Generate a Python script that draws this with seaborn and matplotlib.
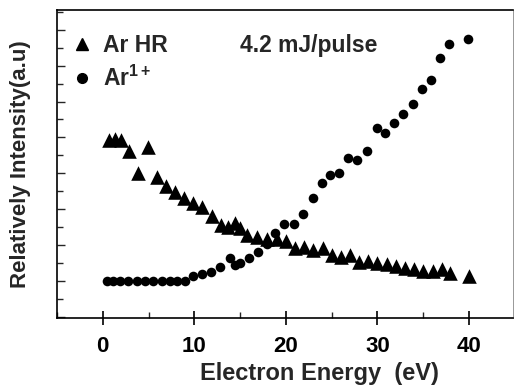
import matplotlib
matplotlib.use("Agg")
import matplotlib.pyplot as plt
import seaborn as sns
import pandas as pd
from matplotlib.lines import Line2D
from matplotlib.ticker import MultipleLocator, NullFormatter

sns.set_theme(style="ticks")
plt.rcParams['font.family'] = ['Liberation Sans', 'DejaVu Sans']
plt.rcParams['font.weight'] = 'bold'
plt.rcParams['mathtext.fontset'] = 'custom'
plt.rcParams['mathtext.bf'] = 'Liberation Sans:bold'
plt.rcParams['mathtext.rm'] = 'Liberation Sans:bold'

# Ar HR (triangles)
hr_energy = [0.66, 1.31, 1.97, 2.84, 3.83, 4.92, 5.9, 6.89, 7.87, 8.85, 9.84, 10.8,
             11.9, 12.9, 13.7, 14.4, 15.0, 15.8, 16.8, 17.9, 19.0, 20.0, 21.0, 22.0,
             23.0, 24.0, 25.0, 26.0, 27.0, 28.0, 29.0, 29.9, 31.0, 32.0, 33.0, 34.0,
             35.0, 36.1, 37.0, 37.9, 40.0]
hr_intensity = [4.94, 4.97, 4.92, 4.61, 4.0, 4.72, 3.89, 3.64, 3.47, 3.31, 3.17, 3.06,
                2.81, 2.56, 2.5, 2.61, 2.47, 2.28, 2.22, 2.17, 2.17, 2.11, 1.92, 1.94,
                1.86, 1.92, 1.72, 1.67, 1.72, 1.53, 1.56, 1.5, 1.47, 1.42, 1.36, 1.33,
                1.28, 1.28, 1.33, 1.22, 1.14]

# Ar1+ (circles)
ion_energy = [0.44, 1.09, 1.86, 2.73, 3.72, 4.59, 5.46, 6.45, 7.32, 8.09, 8.96, 9.84,
              10.8, 11.8, 12.8, 13.9, 14.4, 15.0, 16.0, 16.9, 17.9, 18.8, 19.8, 20.9,
              21.9, 23.0, 23.9, 24.8, 25.8, 26.8, 27.8, 28.9, 29.9, 30.8, 31.8, 32.8,
              33.9, 34.9, 35.8, 36.8, 37.8, 39.9]
ion_intensity = [1.0, 1.0, 1.0, 1.0, 1.0, 1.0, 1.0, 1.0, 1.0, 1.0, 1.0, 1.14,
                 1.19, 1.25, 1.39, 1.64, 1.44, 1.5, 1.64, 1.81, 2.03, 2.33, 2.58, 2.58,
                 2.86, 3.31, 3.72, 3.94, 4.0, 4.44, 4.36, 4.61, 5.25, 5.11, 5.39, 5.64,
                 5.92, 6.36, 6.61, 7.22, 7.61, 7.75]

x_ticks = [0, 10, 20, 30, 40]

df_hr = pd.DataFrame({"energy": hr_energy, "intensity": hr_intensity})
df_ion = pd.DataFrame({"energy": ion_energy, "intensity": ion_intensity})

fig = plt.figure(figsize=(5.14, 3.89), dpi=100)
ax = fig.add_axes([57/514, 1 - 318/389, (513 - 57)/514, (318 - 10)/389])

sns.scatterplot(data=df_hr, x="energy", y="intensity", marker="^", s=110,
                color="black", edgecolor="black", linewidth=0, ax=ax, legend=False)
sns.scatterplot(data=df_ion, x="energy", y="intensity", marker="o", s=48,
                color="black", edgecolor="black", linewidth=0, ax=ax, legend=False)

ax.set_xlim(-5, 44.8)
ax.set_ylim(-0.03, 8.55)
ax.set_xticks(x_ticks)
ax.xaxis.set_minor_locator(MultipleLocator(5))
ax.yaxis.set_major_locator(MultipleLocator(1))
ax.yaxis.set_minor_locator(MultipleLocator(0.5))
ax.yaxis.set_major_formatter(NullFormatter())

ax.tick_params(axis='x', which='major', direction='inout', length=10, width=1.2,
               labelsize=16, pad=8, colors='black')
ax.tick_params(axis='x', which='minor', direction='in', length=4, width=1.0)
ax.tick_params(axis='y', which='major', direction='in', length=6, width=1.0)
ax.tick_params(axis='y', which='minor', direction='in', length=4, width=1.0)
for lab in ax.get_xticklabels():
    lab.set_fontweight('bold')

for sp in ax.spines.values():
    sp.set_color('black')
    sp.set_linewidth(1.2)
ax.spines['right'].set_linewidth(0.6)
ax.spines['right'].set_color('#888888')

ax.set_xlabel("Electron Energy  (eV)", fontsize=17, fontweight='bold')
ax.xaxis.set_label_coords(0.575, -0.143)
ax.set_ylabel("Relatively Intensity(a.u)", fontsize=16, fontweight='bold', labelpad=15)

handles = [Line2D([], [], marker='^', color='black', linestyle='none', markersize=8),
           Line2D([], [], marker='o', color='black', linestyle='none', markersize=7)]
labels = ["Ar HR", r"Ar$^{\mathbf{1+}}$"]
leg = ax.legend(handles, labels, loc='upper left', bbox_to_anchor=(0.0, 0.972),
                frameon=False, prop={'size': 16.5, 'weight': 'bold'},
                handletextpad=0.5, labelspacing=0.38, handlelength=0.8,
                borderaxespad=0.0, borderpad=0.69)

ax.text(0.401, 0.886, "4.2 mJ/pulse", transform=ax.transAxes, fontsize=16.5,
        fontweight='bold', ha='left', va='center')

fig.savefig("out.png", dpi=100)
